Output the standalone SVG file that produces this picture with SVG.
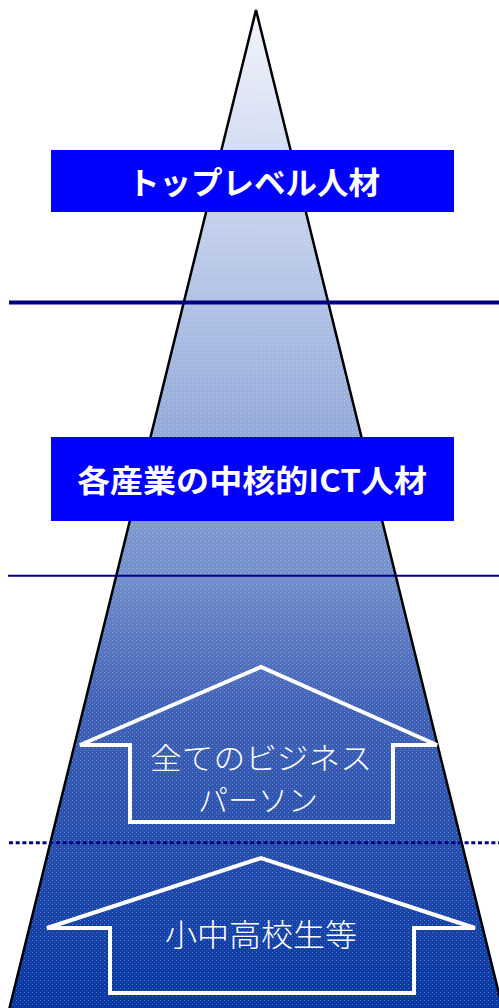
<svg xmlns="http://www.w3.org/2000/svg" width="499" height="1008" viewBox="0 0 499 1008">
<style>
.box{fill:#0000ff;}
.btxt{font-family:"Noto Sans CJK JP","Noto Sans",sans-serif;font-weight:bold;fill:#ffffff;text-anchor:middle;}
.atxt{font-family:"Noto Sans CJK JP","Noto Sans",sans-serif;font-weight:300;fill:#ffffff;text-anchor:middle;}
.arrow{fill:none;stroke:#ffffff;stroke-width:4;stroke-linejoin:miter;}
.sep{stroke:#000080;fill:none;}
</style>
<defs>
<linearGradient id="g" x1="0" y1="10" x2="0" y2="1008" gradientUnits="userSpaceOnUse">
<stop offset="0" stop-color="#f2f4fc"/>
<stop offset="0.29" stop-color="#b2c2e6"/>
<stop offset="0.56" stop-color="#7490cc"/>
<stop offset="0.70" stop-color="#4062b6"/>
<stop offset="1" stop-color="#0636a2"/>
</linearGradient>
<pattern id="dots" x="0" y="0" width="4" height="4" patternUnits="userSpaceOnUse">
<rect x="0" y="0" width="1" height="1" fill="#ffffff" fill-opacity="0.3"/>
<rect x="2" y="2" width="1" height="1" fill="#ffffff" fill-opacity="0.15"/>
</pattern>
</defs>
<g id="pyramid">
<polygon points="256,10 9,1010 503,1010" fill="url(#g)"/>
<polygon points="256,10 9,1010 503,1010" fill="url(#dots)"/>
<polygon points="256,10 9,1010 503,1010" fill="none" stroke="#000000" stroke-width="2.5" stroke-linejoin="miter"/>
</g>
<g id="connectors">
<line class="sep" x1="9" y1="302.5" x2="499" y2="302.5" stroke-width="4"/>
<line class="sep" x1="8" y1="575.7" x2="499" y2="575.7" stroke-width="2"/>
<line class="sep" x1="9" y1="842.7" x2="499" y2="842.7" stroke-width="3" stroke-dasharray="4,2.7"/>
</g>
<g id="top-level">
<rect class="box" x="51" y="150" width="403" height="62"/>
<text class="btxt" x="254" y="194" font-size="31" textLength="252" lengthAdjust="spacingAndGlyphs">トップレベル人材</text>
</g>
<g id="core-ict">
<rect class="box" x="51" y="437" width="403" height="84"/>
<text class="btxt" x="252" y="492" font-size="31" textLength="350" lengthAdjust="spacingAndGlyphs">各産業の中核的ICT人材</text>
</g>
<g id="business">
<path class="arrow" d="M80,745 L261,667 L437,745 L393,745 L393,822 L130,822 L130,745 Z"/>
<text class="atxt" x="261" y="769" font-size="30" textLength="222" lengthAdjust="spacingAndGlyphs">全てのビジネス</text>
<text class="atxt" x="258" y="811" font-size="30" textLength="120" lengthAdjust="spacingAndGlyphs">パーソン</text>
</g>
<g id="students">
<path class="arrow" d="M47,928 L261,858 L475,928 L414,928 L414,993 L110,993 L110,928 Z"/>
<text class="atxt" x="261" y="946" font-size="31" textLength="192" lengthAdjust="spacingAndGlyphs">小中高校生等</text>
</g>
</svg>
